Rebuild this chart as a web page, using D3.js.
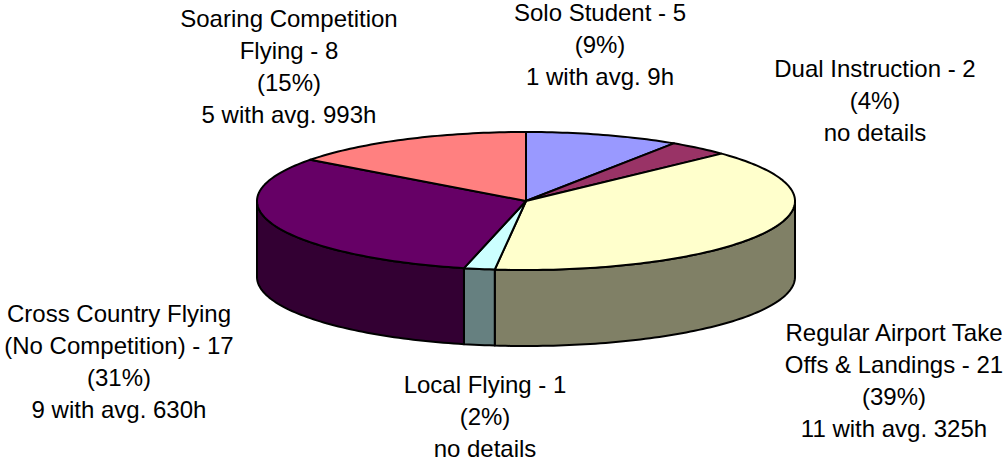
<!DOCTYPE html>
<html>
<head>
<meta charset="utf-8">
<script src="https://cdn.jsdelivr.net/npm/d3@7"></script>
<style>
  html, body { margin: 0; padding: 0; background: #fff; overflow: hidden; }
  text { font-family: "Liberation Sans", Arial, sans-serif; font-size: 24px; fill: #000; }
</style>
</head>
<body>
<svg id="chart" width="1007" height="462"></svg>
<script>
const categories = ["Solo Student", "Dual Instruction", "Regular Airport Take Offs & Landings", "Local Flying", "Cross Country Flying (No Competition)", "Soaring Competition Flying"]
const values = [5, 2, 21, 1, 17, 8]
const percents = ["9%", "4%", "39%", "2%", "31%", "15%"]
const details = ["1 with avg. 9h", "no details", "11 with avg. 325h", "no details", "9 with avg. 630h", "5 with avg. 993h"]

const topColors = ["#9999ff", "#993366", "#ffffcc", "#ccffff", "#660066", "#ff8080"]
const sideColors = ["#4d4d80", "#4d1a33", "#808066", "#668080", "#330033", "#804040"]

// where each category name wraps, and where its label block sits
const nameWraps = [null, null, "Take", null, "(No", "Competition"]
const labelX = [600, 875, 894, 485, 119, 289]
const labelY = [21, 77, 341, 393, 322, 27]

const lineStep = 32.1
const cx = 526, cy = 201, rx = 269, ry = 69, depth = 76

const svg = d3.select('#chart')

const x = d3.scaleLinear().domain([-1, 1]).range([cx - rx, cx + rx])
const y = d3.scaleLinear().domain([-1, 1]).range([cy - ry, cy + ry])

const arcs = d3.pie().sort(null).value(d => d)(values)

// points along the rim between two angles, 12 o'clock = 0, going clockwise
function rim(a0, a1, dy) {
    const n = Math.max(2, Math.ceil((a1 - a0) / 0.02))
    return d3.range(n + 1).map(i => {
        const a = a0 + (a1 - a0) * i / n
        return [x(Math.sin(a)), y(-Math.cos(a)) + dy]
    })
}

const line = d3.line()

// side walls, only the front half of the disc can be seen
const wallStart = Math.PI / 2, wallEnd = Math.PI * 1.5
arcs.forEach((d, i) => {
    const a0 = Math.max(d.startAngle, wallStart)
    const a1 = Math.min(d.endAngle, wallEnd)
    if (a1 <= a0) return
    const pts = rim(a0, a1, 0).concat(rim(a0, a1, depth).reverse())
    svg.append('path')
        .attr('d', line(pts) + 'Z')
        .attr('fill', sideColors[i])
        .attr('stroke', '#000')
        .attr('stroke-width', 2)
        .attr('stroke-linejoin', 'round')
})

// top face
arcs.forEach((d, i) => {
    const pts = [[x(0), y(0)]].concat(rim(d.startAngle, d.endAngle, 0))
    svg.append('path')
        .attr('d', line(pts) + 'Z')
        .attr('fill', topColors[i])
        .attr('stroke', '#000')
        .attr('stroke-width', 2)
        .attr('stroke-linejoin', 'round')
})

// labels
categories.forEach((name, i) => {
    let lines = []
    const label = name + ' - ' + values[i]
    if (nameWraps[i]) {
        const cut = label.indexOf(nameWraps[i]) + (nameWraps[i] === "(No" ? 0 : nameWraps[i].length)
        lines.push(label.slice(0, cut).trim(), label.slice(cut).trim())
    } else {
        lines.push(label)
    }
    lines.push('(' + percents[i] + ')', details[i])

    const t = svg.append('text').attr('text-anchor', 'middle')
    lines.forEach((l, k) => {
        t.append('tspan')
            .attr('x', labelX[i])
            .attr('y', labelY[i] + k * lineStep)
            .text(l)
    })
})
</script>
</body>
</html>
